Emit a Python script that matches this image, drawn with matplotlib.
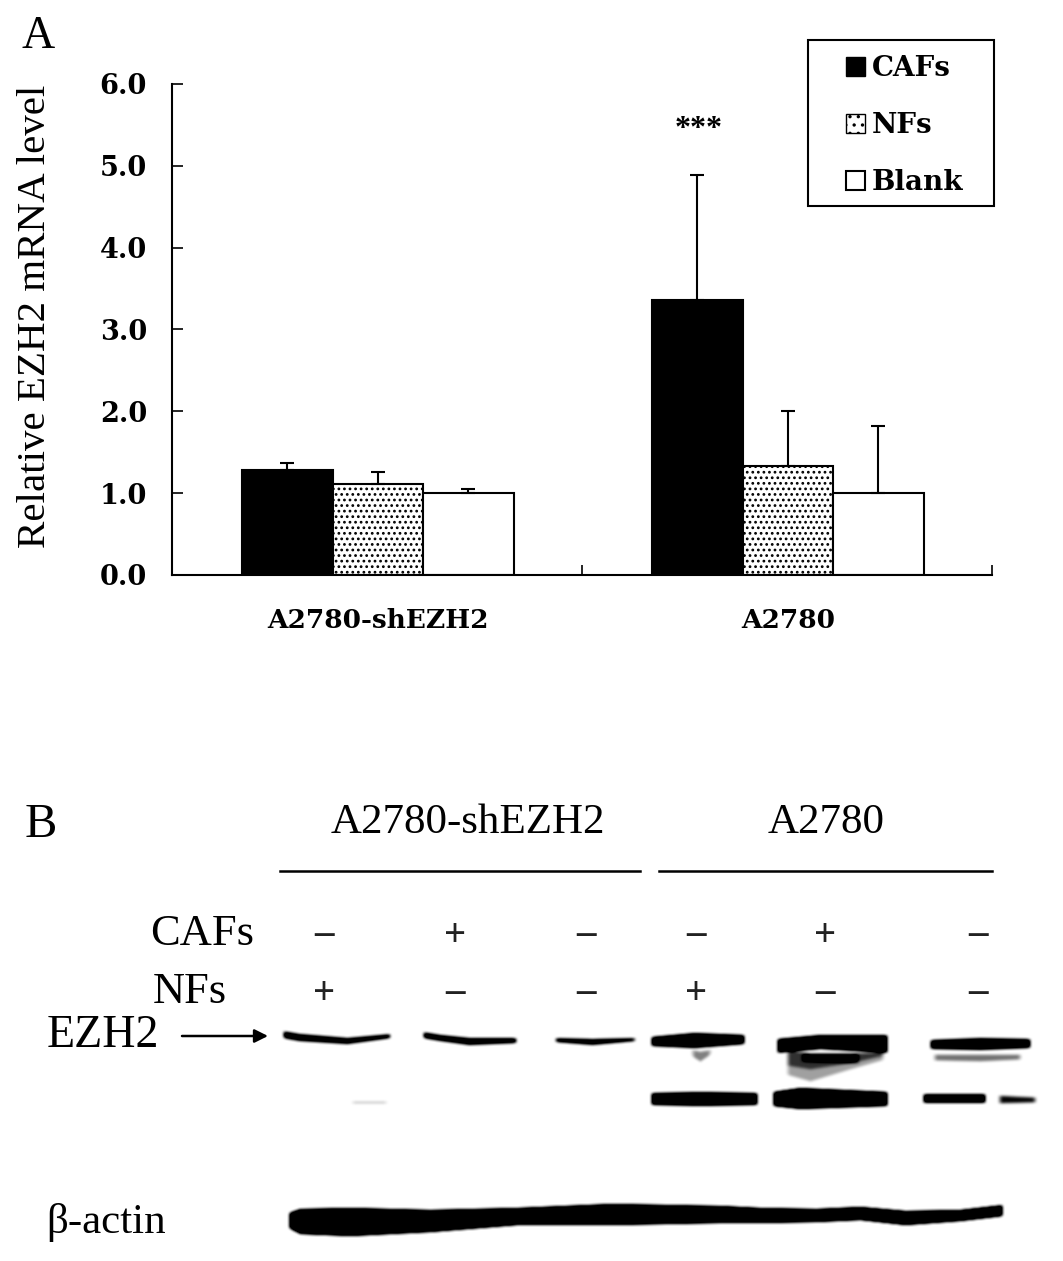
import matplotlib
matplotlib.use("Agg")
import matplotlib.pyplot as plt
from matplotlib.patches import Patch, Rectangle
import numpy as np

W, H = 1063, 1261

groups = ["A2780-shEZH2", "A2780"]
series = ["CAFs", "NFs", "Blank"]
cafs = [1.28, 3.36]
nfs = [1.11, 1.33]
blank = [1.0, 1.0]
cafs_err = [0.09, 1.53]
nfs_err = [0.15, 0.68]
blank_err = [0.05, 0.82]
yticks = [0, 1, 2, 3, 4, 5, 6]

cafs_row = ["–", "+", "–", "–", "+", "–"]
nfs_row = ["+", "–", "–", "+", "–", "–"]
lane_x = [324, 455, 586, 696, 825, 978]

# blot bands: x positions, top edge, bottom edge, darkness
bands = [
    ([282, 299, 347, 391], [1030, 1033, 1037, 1033], [1038, 1041, 1044, 1038], 2.5),
    ([422, 440, 469, 517], [1031, 1034, 1037, 1037], [1038, 1041, 1045, 1043], 2.5),
    ([554, 592, 636], [1037, 1038, 1037], [1042, 1045, 1041], 2.2),
    ([650, 694, 745], [1036, 1032, 1034], [1046, 1048, 1044], 3.0),
    ([690, 700, 712], [1048, 1050, 1048], [1056, 1062, 1054], 0.4),
    ([776, 820, 888], [1038, 1034, 1034], [1053, 1049, 1053], 3.0),
    ([785, 810, 850, 885], [1048, 1052, 1052, 1050], [1075, 1082, 1070, 1060], 0.3),
    ([785, 810, 850, 885], [1048, 1052, 1052, 1050], [1066, 1070, 1064, 1056], 0.35),
    ([800, 860], [1052, 1052], [1062, 1064], 0.5),
    ([929, 980, 1031], [1039, 1037, 1038], [1049, 1050, 1048], 2.5),
    ([932, 980, 1022], [1053, 1053, 1053], [1061, 1062, 1060], 0.45),
    ([650, 700, 758], [1092, 1091, 1092], [1105, 1106, 1105], 3.0),
    ([772, 800, 888], [1091, 1087, 1091], [1106, 1109, 1106], 3.5),
    ([922, 986], [1093, 1093], [1103, 1103], 3.0),
    ([997, 1037], [1094, 1096], [1104, 1103], 0.8),
    ([350, 388], [1100, 1100], [1104, 1104], 0.25),
    ([288, 300, 350, 430, 517, 612, 720, 760, 816, 860, 905, 960, 1003],
     [1212, 1208, 1207, 1209, 1207, 1203, 1205, 1207, 1208, 1206, 1210, 1209, 1204],
     [1228, 1234, 1236, 1232, 1225, 1225, 1223, 1223, 1222, 1220, 1225, 1221, 1216], 4.0),
]


def blot_image():
    xx, yy = np.meshgrid(np.arange(W), np.arange(760, H))
    dark = np.zeros(xx.shape)
    for xs, tops, bots, d in bands:
        top = np.interp(xx, xs, tops)
        bot = np.interp(xx, xs, bots)
        sides = np.clip((xx - xs[0]) / 5, 0, 1) * np.clip((xs[-1] - xx) / 5, 0, 1)
        dark += d * sides * np.clip((yy - top) / 2.5, 0, 1) * np.clip((bot - yy) / 2.5, 0, 1)
    dark = np.clip(dark, 0, 1)
    # soften the edges a bit
    kernel = np.array([1, 2, 3, 2, 1]) / 9
    dark = np.apply_along_axis(lambda r: np.convolve(r, kernel, mode="same"), 1, dark)
    dark = np.apply_along_axis(lambda c: np.convolve(c, kernel, mode="same"), 0, dark)
    return 1 - np.clip(dark * 1.25, 0, 1)


plt.rcParams["font.family"] = ["Liberation Serif", "DejaVu Serif"]
plt.rcParams["hatch.linewidth"] = 1.2
fig = plt.figure(figsize=(W / 100, H / 100), dpi=100)

# overlay in pixel coordinates for panel labels and blot
bg = fig.add_axes([0, 0, 1, 1])
bg.imshow(blot_image(), cmap="gray", vmin=0, vmax=1, extent=(0, W, H, 760),
          aspect="auto", interpolation="bilinear")
bg.set_xlim(0, W)
bg.set_ylim(H, 0)
bg.axis("off")

ax = fig.add_axes([172 / W, 1 - 575 / H, 820 / W, 491 / H])
ax.patch.set_alpha(0)
x = np.arange(len(groups)) + 0.502
w = 0.2207
errkw = dict(ecolor="black", elinewidth=1.5, capsize=5, capthick=1.5)
ax.bar(x - w, cafs, w, color="black", edgecolor="black", linewidth=1.5,
       yerr=[[0, 0], cafs_err], error_kw=errkw)
ax.bar(x, nfs, w, color="white", edgecolor="black", linewidth=1.5, hatch="...",
       yerr=[[0, 0], nfs_err], error_kw=errkw)
ax.bar(x + w, blank, w, color="white", edgecolor="black", linewidth=1.5,
       yerr=[[0, 0], blank_err], error_kw=errkw)
ax.set_xlim(0, 2)
ax.set_ylim(0, 6)
ax.set_yticks(yticks)
ax.set_yticklabels([f"{v:.1f}" for v in yticks], fontsize=19.5, fontweight="bold",
                   family="DejaVu Serif")
ax.set_xticks([0, 1, 2])
ax.set_xticklabels([])
ax.tick_params(axis="x", direction="in", length=7, width=1.2)
ax.tick_params(axis="y", direction="in", length=8, width=1.2, pad=18)
ax.spines["top"].set_visible(False)
ax.spines["right"].set_visible(False)
ax.spines["left"].set_linewidth(1.5)
ax.spines["bottom"].set_linewidth(1.5)
ax.text(x[1] - w + 0.004, 5.45, "***", ha="center", va="center", fontsize=23, fontweight="bold")
for xc, g in zip(x, groups):
    ax.annotate(g, (xc, 0), xytext=(0, -46), textcoords="offset pixels",
                ha="center", va="center", fontsize=19, fontweight="bold",
                family="DejaVu Serif")

handles = [Patch(facecolor="black", edgecolor="black"),
           Patch(facecolor="white", edgecolor="black", hatch=".."),
           Patch(facecolor="white", edgecolor="black", linewidth=1.5)]
bg.add_patch(Rectangle((808, 40), 186, 166, facecolor="white", edgecolor="black", linewidth=1.5))
leg = fig.legend(handles, series, loc="upper left",
                 bbox_to_anchor=(846 / W, 1 - 55 / H),
                 prop={"size": 20, "weight": "bold", "family": "DejaVu Serif"},
                 frameon=False,
                 handlelength=0.68, handleheight=0.68, handletextpad=0.25,
                 labelspacing=1.08, borderpad=0, borderaxespad=0)

bg.text(38, 37, "A", fontsize=33, ha="center", va="center")
bg.text(41, 825, "B", fontsize=35, ha="center", va="center")
bg.text(36, 316, "Relative EZH2 mRNA level", fontsize=29.5, rotation=90, ha="center", va="center")
bg.text(468, 823, groups[0], fontsize=31, ha="center", va="center")
bg.text(826, 823, groups[1], fontsize=31, ha="center", va="center")
bg.plot([280, 640], [871, 871], color="black", lw=1.8)
bg.plot([659, 992], [871, 871], color="black", lw=1.8)
bg.text(202, 934, "CAFs", fontsize=32, ha="center", va="center")
bg.text(190, 992, "NFs", fontsize=32, ha="center", va="center")
bg.text(103, 1036, "EZH2", fontsize=33, ha="center", va="center")
bg.text(106, 1223, "β-actin", fontsize=31, ha="center", va="center")
bg.annotate("", xy=(268, 1036), xytext=(182, 1036),
            arrowprops=dict(arrowstyle="-|>", color="black", lw=1.8, mutation_scale=20,
                            shrinkA=0, shrinkB=0))
for row, yp in ((cafs_row, 934), (nfs_row, 992)):
    for xp, s in zip(lane_x, row):
        bg.text(xp, yp + (3 if s == "+" else 0), s, fontsize=28, ha="center", va="center",
                fontweight="bold", color="#222222")

fig.savefig("out.png", dpi=100)
